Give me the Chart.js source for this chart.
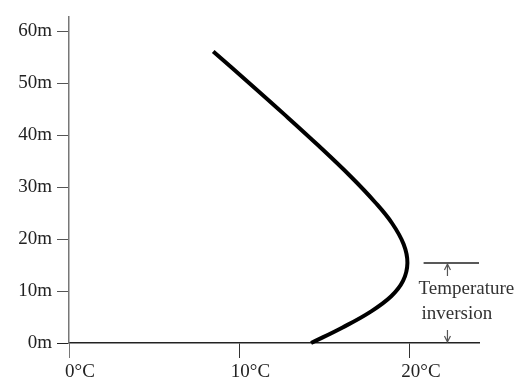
<!DOCTYPE html>
<html lang="en">
<head>
<meta charset="UTF-8">
<title>Temperature inversion</title>
<script src="https://cdn.jsdelivr.net/npm/chart.js"></script>
<style>
  html, body { margin: 0; padding: 0; background: #fff; }
  #wrap { width: 521px; height: 383px; }
</style>
</head>
<body>
<div id="wrap"><canvas id="tempChart" width="521" height="383"></canvas></div>
<script>
    // temperature profile (height in m, temperature in deg C)
    const heights = [0, 3, 6, 9, 12, 15.4, 19, 23, 27, 32, 38, 44, 50, 56.1];
    const temps = [14.2, 16.05, 17.68, 18.9, 19.6, 19.85, 19.63, 18.96, 17.98, 16.54, 14.63, 12.63, 10.58, 8.46];

    const tempTicks = [0, 10, 20];
    const heightTicks = [0, 10, 20, 30, 40, 50, 60];

    // inversion layer marker
    const inversionTop = 15.4;
    const inversionBottom = 0;
    const inversionLine = [20.8, 24.05];
    const inversionArrowAt = 22.2;
    const inversionText = ['Temperature', 'inversion'];

    const points = temps.map((t, i) => ({ x: t, y: heights[i] }));
    const serif = "'Liberation Serif', 'Times New Roman', serif";

    function arrow(ctx, x, y1, y2) {
        // line from y1 to y2 with a small head at y2
        const dir = y2 > y1 ? 1 : -1;
        ctx.beginPath();
        ctx.moveTo(x, y1);
        ctx.lineTo(x, y2);
        ctx.moveTo(x - 3, y2 - dir * 6);
        ctx.lineTo(x, y2);
        ctx.lineTo(x + 3, y2 - dir * 6);
        ctx.stroke();
    }

    const inversionPlugin = {
        id: 'inversion',
        afterDraw(chart) {
            const { ctx, scales: { x, y } } = chart;
            const top = y.getPixelForValue(inversionTop);
            const bottom = y.getPixelForValue(inversionBottom);
            const ax = x.getPixelForValue(inversionArrowAt);
            ctx.save();
            ctx.strokeStyle = '#222';
            ctx.lineWidth = 1.5;
            ctx.beginPath();
            ctx.moveTo(x.getPixelForValue(inversionLine[0]), top);
            ctx.lineTo(x.getPixelForValue(inversionLine[1]), top);
            ctx.stroke();
            ctx.strokeStyle = '#555';
            ctx.lineWidth = 1.2;
            arrow(ctx, ax, top + 13, top + 1);
            arrow(ctx, ax, bottom - 13, bottom - 1);
            ctx.fillStyle = '#333';
            ctx.font = '19px ' + serif;
            ctx.textAlign = 'left';
            ctx.textBaseline = 'alphabetic';
            ctx.fillText(inversionText[0], ax - 29, top + 31);
            ctx.fillText(inversionText[1], ax - 26, top + 56);
            ctx.restore();
        }
    };

    new Chart(document.getElementById('tempChart'), {
        type: 'scatter',
        data: {
            datasets: [{
                data: points,
                showLine: true,
                borderColor: '#000',
                borderWidth: 4,
                borderCapStyle: 'butt',
                pointRadius: 0,
                tension: 0.4,
                clip: false
            }]
        },
        options: {
            responsive: false,
            animation: false,
            layout: { padding: { top: 13, right: 42, bottom: 0, left: 0 } },
            plugins: { legend: { display: false }, tooltip: { enabled: false } },
            scales: {
                x: {
                    type: 'linear',
                    min: 0,
                    max: 24.05,
                    afterBuildTicks: s => { s.ticks = tempTicks.map(v => ({ value: v })); },
                    afterFit: s => { s.height = 40; },
                    border: { display: true, color: '#222', width: 1.5 },
                    grid: {
                        drawOnChartArea: false,
                        tickLength: 15,
                        color: c => c.index === 0 ? '#777' : '#333'
                    },
                    ticks: {
                        callback: v => v + '°C',
                        color: '#222',
                        font: { family: serif, size: 19 },
                        padding: 3,
                        labelOffset: 11,
                        maxRotation: 0
                    }
                },
                y: {
                    type: 'linear',
                    min: 0,
                    max: 62.86,
                    afterBuildTicks: s => { s.ticks = heightTicks.map(v => ({ value: v })); },
                    afterFit: s => { s.width = 69; },
                    border: { display: true, color: '#777', width: 1.5 },
                    grid: {
                        drawOnChartArea: false,
                        tickLength: 12,
                        color: c => c.tick && c.tick.value === 0 ? '#222' : '#555'
                    },
                    ticks: {
                        callback: v => v + 'm',
                        color: '#222',
                        font: { family: serif, size: 19 },
                        padding: 5
                    }
                }
            }
        },
        plugins: [inversionPlugin]
    });
</script>
</body>
</html>
